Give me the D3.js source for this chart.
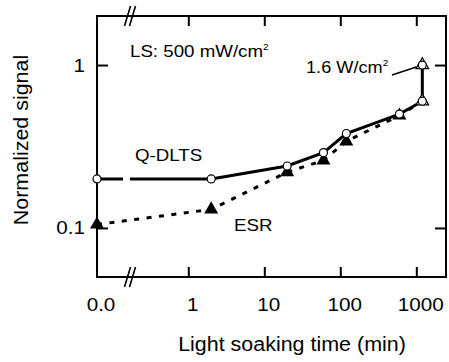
<!DOCTYPE html>
<html>
<head>
<meta charset="utf-8">
<script src="https://cdn.jsdelivr.net/npm/d3@7"></script>
<style>
  body { margin: 0; background: #fff; }
  text { font-family: "Liberation Sans", Arial, sans-serif; fill: #000; }
</style>
</head>
<body>
<div id="chart-area"></div>
<script>
// data
var times   = [0, 2, 20, 60, 120, 600, 1200];
var qdlts   = [0.2, 0.2, 0.24, 0.29, 0.38, 0.5, 0.6];
var esr     = [0.105, 0.13, 0.22, 0.26, 0.34, 0.49, 0.6];
var hiTime  = 1200;          // 1.6 W/cm2 soak
var hiQdlts = 1.0;
var hiEsr   = 1.0;
var xTicks  = [1, 10, 100, 1000];
var yTicks  = [0.1, 1];

var def = {
    width: 449,
    height: 362,
    left: 97,
    top: 16,
    w: 349,
    h: 261,
    stretch: 1.1
};

var svg = d3.select('#chart-area').append('svg')
    .attr('width', def.width)
    .attr('height', def.height);
var g = svg.append('g')
    .attr('transform', 'translate(' + def.left + ',' + def.top + ')');

// scales: zero sits on the left axis, the rest is log
var x = d3.scaleLog().domain([1, 1000]).range([91.3, 319.3]);
var xPos = function(t) { return t === 0 ? 0 : x(t); };
var y = d3.scaleLog().domain([0.05, 2]).range([def.h, 0]);

// axes (inward ticks)
var xb = g.append('g').attr('transform', 'translate(0,' + def.h + ')')
    .call(d3.axisBottom(x).tickValues(xTicks).tickFormat(d3.format('d')).tickSize(-10).tickPadding(21));
var xt = g.append('g')
    .call(d3.axisTop(x).tickValues(xTicks).tickFormat('').tickSize(-10));
var yl = g.append('g')
    .call(d3.axisLeft(y).tickValues(yTicks).tickFormat(function(d) { return d === 1 ? '1' : '0.1'; }).tickSize(-11).tickPadding(12));
var yr = g.append('g').attr('transform', 'translate(' + def.w + ',0)')
    .call(d3.axisRight(y).tickValues(yTicks).tickFormat('').tickSize(-11));

g.selectAll('.domain').remove();
g.selectAll('.tick line').attr('stroke', '#000').attr('stroke-width', 2);
g.selectAll('.tick text').attr('font-size', '18.8px').attr('font-family', '"Liberation Sans", Arial, sans-serif');
xb.selectAll('.tick text').attr('dx', 4);

// zero label
xb.append('text')
    .attr('x', xPos(0) + 4)
    .attr('y', 21)
    .attr('dy', '0.71em')
    .attr('text-anchor', 'middle')
    .attr('font-size', '18.8px')
    .text('0.0');

// frame
g.append('rect')
    .attr('width', def.w).attr('height', def.h)
    .attr('fill', 'none').attr('stroke', '#000').attr('stroke-width', 2);

// axis break marks
[0, def.h].forEach(function(yy) {
    [-2.5, 2.5].forEach(function(o) {
        g.append('line')
            .attr('x1', 33 + o - 3).attr('y1', yy + 10)
            .attr('x2', 33 + o + 3).attr('y2', yy - 10)
            .attr('stroke', '#000').attr('stroke-width', 1.6);
    });
});

// lines
var line = d3.line()
    .x(function(d) { return xPos(d[0]); })
    .y(function(d) { return y(d[1]); });

var esrPts = times.map(function(t, i) { return [t, esr[i]]; });
var qPts = times.map(function(t, i) { return [t, qdlts[i]]; });

g.append('path')
    .attr('d', line(esrPts))
    .attr('fill', 'none').attr('stroke', '#000').attr('stroke-width', 3)
    .attr('stroke-dasharray', '5,7.5');

g.append('path')
    .attr('d', line(qPts.slice(0, 2)))
    .attr('fill', 'none').attr('stroke', '#000').attr('stroke-width', 3)
    .attr('stroke-dasharray', '26,7,200');

g.append('path')
    .attr('d', line(qPts.slice(1).concat([[hiTime, hiQdlts]])))
    .attr('fill', 'none').attr('stroke', '#000').attr('stroke-width', 3);

// markers
var tri = d3.symbol().type(d3.symbolTriangle);
g.selectAll('.esr')
    .data(esrPts.slice(0, 6))
    .enter().append('path')
    .attr('class', 'esr')
    .attr('d', tri.size(85))
    .attr('transform', function(d) { return 'translate(' + xPos(d[0]) + ',' + y(d[1]) + ')'; })
    .attr('fill', '#000');

g.selectAll('.esr-hi')
    .data([esrPts[6], [hiTime, hiEsr]])
    .enter().append('path')
    .attr('class', 'esr-hi')
    .attr('d', tri.size(70))
    .attr('transform', function(d) { return 'translate(' + xPos(d[0]) + ',' + y(d[1]) + ')'; })
    .attr('fill', '#fff').attr('stroke', '#000').attr('stroke-width', 1.2);

g.selectAll('.qd')
    .data(qPts.concat([[hiTime, hiQdlts]]))
    .enter().append('circle')
    .attr('class', 'qd')
    .attr('cx', function(d) { return xPos(d[0]); })
    .attr('cy', function(d) { return y(d[1]); })
    .attr('r', 4)
    .attr('fill', '#fff').attr('stroke', '#000').attr('stroke-width', 1.2);

// annotations
var ls = g.append('text').attr('x', 33).attr('y', 41).attr('font-size', '17px').text('LS: 500 mW/cm');
ls.append('tspan').attr('font-size', '9px').attr('dy', -7).text('2');

g.append('text').attr('x', 38).attr('y', 145).attr('font-size', '17px').text('Q-DLTS');
g.append('text').attr('x', 137).attr('y', 215).attr('font-size', '17px').text('ESR');

var hi = g.append('text').attr('x', 209).attr('y', 57).attr('font-size', '16.5px').text('1.6 W/cm');
hi.append('tspan').attr('font-size', '9px').attr('dy', -7).text('2');
g.append('line')
    .attr('x1', 295).attr('y1', 59)
    .attr('x2', xPos(hiTime) - 6).attr('y2', y(hiQdlts) + 2)
    .attr('stroke', '#000').attr('stroke-width', 1.5);

// axis titles
svg.append('text')
    .attr('x', 292).attr('y', 351)
    .attr('text-anchor', 'middle')
    .attr('font-size', '19.5px')
    .text('Light soaking time (min)');

svg.append('text')
    .attr('transform', 'translate(28,140) rotate(-90)')
    .attr('text-anchor', 'middle')
    .attr('font-size', '19.5px')
    .text('Normalized signal');

// the source figure is a bit wide, so widen the lettering to match
svg.selectAll('text').each(function() {
    if (!this.textContent) return;
    var w = this.getComputedTextLength();
    d3.select(this).attr('textLength', w * def.stretch).attr('lengthAdjust', 'spacingAndGlyphs');
});
</script>
</body>
</html>
